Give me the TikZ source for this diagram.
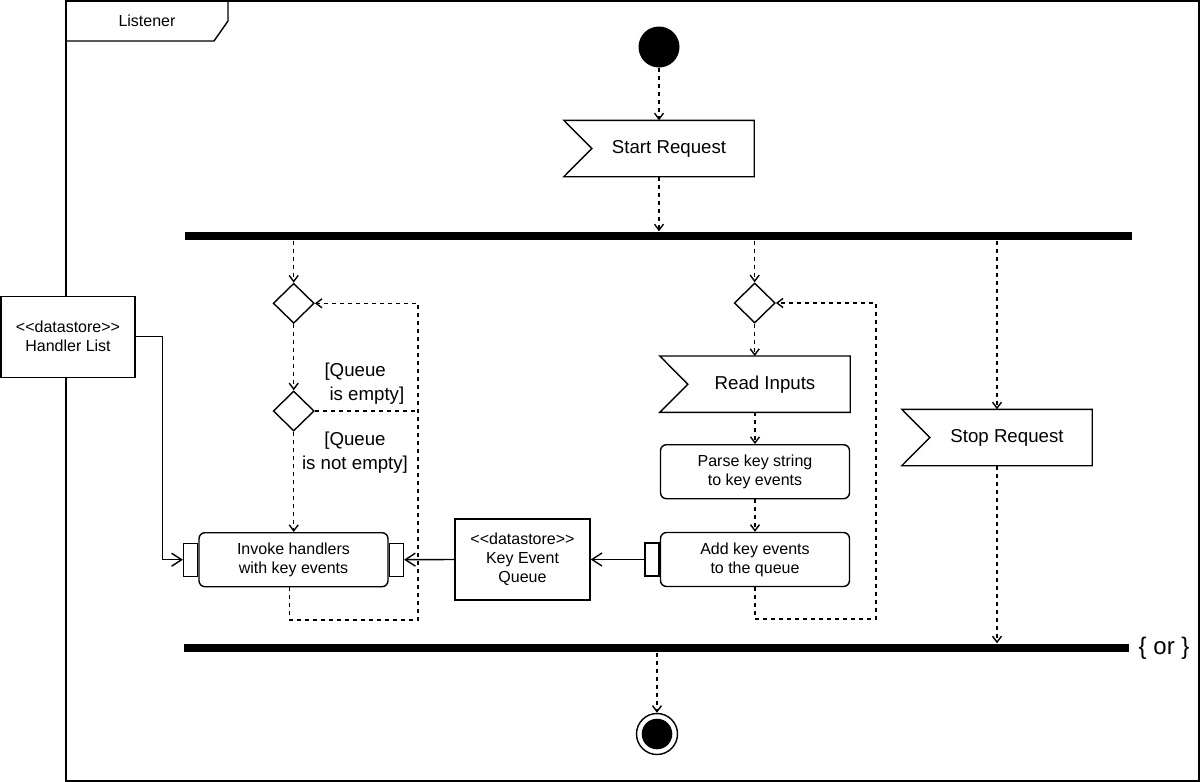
\documentclass[tikz,border=0pt]{standalone}
\usepackage{fontspec}
\setmainfont{Liberation Sans}
\usepackage{tikz}
\usetikzlibrary{arrows.meta}
\usetikzlibrary{shapes.geometric}

\begin{document}
\begin{tikzpicture}[x=1pt,y=-1pt,line width=1.4pt]
\tikzstyle{every node}=[font=\fontsize{16}{19}\selectfont]
\tikzstyle{bigtext}=[font=\fontsize{18.67}{24}\selectfont]
\tikzstyle{flow}=[dash pattern=on 4pt off 4pt, -{Straight Barb[length=6pt,width=9pt]}]
\tikzstyle{dashes}=[dash pattern=on 4pt off 4pt]
\tikzstyle{data}=[-{Straight Barb[length=10pt,width=13pt]}]
\tikzstyle{recvsig}=[minimum width=189pt, minimum height=55pt, inner sep=0pt]
\tikzstyle{action}=[draw, rounded corners=6pt, minimum width=189pt, minimum height=54pt, align=center]
\tikzstyle{pinbox}=[draw, fill=white, minimum width=14pt, minimum height=33pt, inner sep=0pt]
\tikzstyle{store}=[draw, fill=white, minimum width=135pt, minimum height=81pt, align=center]
\tikzstyle{decision}=[draw, diamond, minimum width=41pt, minimum height=40pt, inner sep=0pt]
\tikzstyle{bar}=[fill=black, minimum height=8pt, inner sep=0pt]
\useasboundingbox (0,0) rectangle (1200,782);

\draw (66,1) rectangle (1199,781);
\draw (66,41) -- (214,41) -- (228,21) -- (228,1);
\node (frametitle) at (147,21) {Listener};

\node [circle, fill=black, minimum size=41pt, inner sep=0pt] (start) at (659,47) {};
\node [recvsig, label={[bigtext, xshift=10pt]center:Start Request}] (sr) at (659,148.5) {};
\node [bar, minimum width=947pt] (fork) at (658.5,236) {};

\node [decision] (d1) at (293.7,303.3) {};
\node [decision] (d2) at (293.7,411) {};
\node [decision] (d3) at (754.7,303) {};
\node [bigtext, align=left, anchor=west] (gempty) at (320.5,384) {[Queue\\\hspace*{5pt}is empty]};
\node [bigtext, align=center] (gfull) at (355,453) {[Queue\\is not empty]};

\node [recvsig, label={[bigtext, xshift=10pt]center:Read Inputs}] (ri) at (755,384.2) {};
\node [action] (parse) at (755,471.7) {Parse key string\\to key events};
\node [action] (add) at (755,559.5) {Add key events\\to the queue};
\node [pinbox, anchor=east] (addl) at (add.west) {};

\node [recvsig, label={[bigtext, xshift=10pt]center:Stop Request}] (stop) at (997,437.5) {};

\node [action] (inv) at (293.5,559.7) {Invoke handlers\\with key events};
\node [pinbox, anchor=east] (invl) at (inv.west) {};
\node [pinbox, anchor=west] (invr) at (inv.east) {};

\node [store] (kq) at (522.5,559.5) {{<}{<}datastore{>}{>}\\Key Event\\Queue};
\node [store, minimum width=134pt] (hl) at (68,336.7) {{<}{<}datastore{>}{>}\\Handler List};

\node [bar, minimum width=945pt] (join) at (656.5,648) {};
\node [font=\fontsize{24}{28}\selectfont, anchor=west] (orlabel) at ([xshift=5pt]join.east) {\{ or \}};
\node [circle, draw, minimum size=41pt, inner sep=0pt,
  path picture={\fill (path picture bounding box.center) circle (15.3pt);}] (fin) at (657,734) {};

\foreach \s in {sr,ri,stop}
  \draw (\s.north west) -- (\s.north east) -- (\s.south east) -- (\s.south west) -- ([xshift=28pt]\s.west) -- cycle;

\coordinate (lturn) at (418,620);
\coordinate (rturn) at (876,619);

\draw [flow] (start.south) -- (sr.north);
\draw [flow] (sr.south) -- (sr.south |- fork.north);
\draw [flow] (d1.north |- fork.south) -- (d1.north);
\draw [flow] (d3.north |- fork.south) -- (d3.north);
\draw [flow] (stop.north |- fork.south) -- (stop.north);
\draw [flow] (d1.south) -- (d2.north);
\draw [flow] (d2.south) -- (inv.north -| d2.south);
\draw [flow] (d3.south) -- (ri.north -| d3.south);
\draw [flow] (ri.south) -- (parse.north);
\draw [flow] (parse.south) -- (add.north);
\draw [flow] (stop.south) -- (stop.south |- join.north);
\draw [flow] (join.south -| fin.north) -- (fin.north);
\draw [flow] ([xshift=-4pt]inv.south) |- (lturn) |- (d1.east);
\draw [dashes] (d2.east) -- (d2.east -| lturn);
\draw [flow] (add.south) |- (rturn) |- (d3.east);

\draw [data] (hl.east) -- ++(27,0) |- (invl.west);
\draw [data] (kq.west) -- (invr.east);
\draw [data] (addl.west) -- (kq.east);
\end{tikzpicture}
\end{document}
